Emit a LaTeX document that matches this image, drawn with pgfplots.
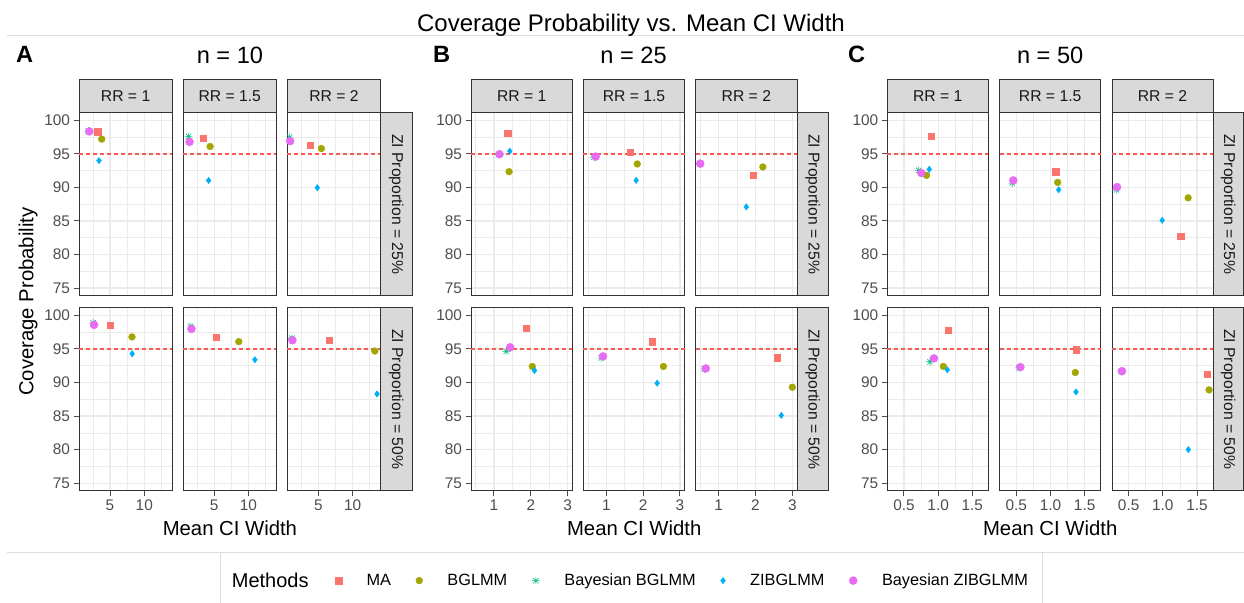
\documentclass[border=0pt]{standalone}
\usepackage{fontspec}
\setmainfont{Liberation Sans}
\usepackage{pgfplots}
\pgfplotsset{compat=1.18}
\usepackage{pgfplotstable}
\usetikzlibrary{calc}

\definecolor{cMA}{HTML}{F8766D}
\definecolor{cBG}{HTML}{A3A500}
\definecolor{cBBG}{HTML}{00BF7D}
\definecolor{cZI}{HTML}{00B0F6}
\definecolor{cBZI}{HTML}{E76BF3}
\definecolor{gridc}{HTML}{EBEBEB}
\definecolor{border}{HTML}{333333}
\definecolor{labc}{HTML}{4D4D4D}
\definecolor{stripc}{HTML}{D9D9D9}
\definecolor{framec}{HTML}{DDDDDD}

\newcommand\ticksize{\fontsize{15.4pt}{17pt}\selectfont}
\newcommand\stripsize{\fontsize{15.7pt}{18pt}\selectfont}
\newcommand\axsize{\fontsize{20.3pt}{23pt}\selectfont}
\newcommand\titsize{\fontsize{23.6pt}{27pt}\selectfont}
\newcommand\legsize{\fontsize{16.3pt}{19pt}\selectfont}
\newcommand\legtitsize{\fontsize{20pt}{23pt}\selectfont}

% ggplot shape 8: a plus and a cross
\pgfdeclareplotmark{ggstar}{%
  \pgfpathmoveto{\pgfqpoint{-\pgfplotmarksize}{0pt}}\pgfpathlineto{\pgfqpoint{\pgfplotmarksize}{0pt}}%
  \pgfpathmoveto{\pgfqpoint{0pt}{-\pgfplotmarksize}}\pgfpathlineto{\pgfqpoint{0pt}{\pgfplotmarksize}}%
  \pgfpathmoveto{\pgfqpoint{-.7071\pgfplotmarksize}{-.7071\pgfplotmarksize}}\pgfpathlineto{\pgfqpoint{.7071\pgfplotmarksize}{.7071\pgfplotmarksize}}%
  \pgfpathmoveto{\pgfqpoint{-.7071\pgfplotmarksize}{.7071\pgfplotmarksize}}\pgfpathlineto{\pgfqpoint{.7071\pgfplotmarksize}{-.7071\pgfplotmarksize}}%
  \pgfusepathqstroke}

% t = ZI 25%, b = ZI 50%; 1, 15, 2 = RR
\pgfplotstableread{
method xt1 yt1 xt15 yt15 xt2 yt2 xb1 yb1 xb15 yb15 xb2 yb2
MA  3.90 98.30 4.00 97.30 4.21 96.30 5.00 98.50 5.17 96.70 6.19 96.30
BG  4.23 97.20 4.61 96.10 5.32 95.80 7.80 96.80 8.23 96.10 15.7 94.70
BBG 3.22 98.40 2.98 97.60 2.80 97.50 3.55 98.90 3.12 98.40 2.93 96.60
ZI  4.00 94.00 4.47 91.05 4.90 89.95 7.83 94.30 11.4 93.40 16.4 88.30
BZI 3.29 98.35 3.04 96.80 2.83 96.90 3.62 98.60 3.16 98.00 2.96 96.30
}\nten
\pgfplotstableread{
method xt1 yt1 xt15 yt15 xt2 yt2 xb1 yb1 xb15 yb15 xb2 yb2
MA  1.37 98.10 1.645 95.20 1.93 91.85 1.88 98.10 2.24 96.10 2.585 93.70
BG  1.41 92.35 1.84 93.50 2.20 93.05 2.04 92.40 2.55 92.40 3.00 89.30
BBG 1.12 94.90 0.66 94.50 0.48 93.55 1.33 94.65 0.86 93.65 0.61 92.00
ZI  1.43 95.40 1.81 91.05 1.75 87.10 2.10 91.80 2.38 89.90 2.70 85.10
BZI 1.15 94.95 0.71 94.60 0.50 93.55 1.44 95.25 0.91 93.90 0.65 92.10
}\ntwentyfive
\pgfplotstableread{
method xt1 yt1 xt15 yt15 xt2 yt2 xb1 yb1 xb15 yb15 xb2 yb2
MA  0.900 97.60 1.076 92.35 1.26 82.70 1.144 97.80 1.373 94.90 1.651 91.30
BG  0.830 91.80 1.105 90.75 1.37 88.45 1.076 92.40 1.363 91.50 1.676 88.90
BBG 0.715 92.55 0.440 90.65 0.32 89.65 0.880 93.10 0.540 92.20 0.390 91.60
ZI  0.870 92.70 1.120 89.65 0.99 85.10 1.134 91.90 1.373 88.60 1.373 80.00
BZI 0.754 92.15 0.456 91.05 0.33 90.05 0.939 93.60 0.559 92.30 0.402 91.70
}\nfifty

\pgfplotsset{
  facet/.style={
    scale only axis, anchor=north west, height=183.5pt,
    ymin=73.85, ymax=101.2,
    ytick={75,80,85,90,95,100}, yticklabels={75,80,85,90,95,100},
    minor ytick={77.5,82.5,87.5,92.5,97.5},
    grid=both,
    major grid style={line width=1.2pt, draw=gridc},
    minor grid style={line width=0.6pt, draw=gridc},
    axis line style={draw=border, line width=1pt},
    tick align=outside, tick pos=left,
    major tick length=5.5pt, minor tick length=0pt,
    tick style={line width=1pt, draw=labc},
    tick label style={font=\ticksize, text=labc},
    clip=false,
  },
  % log scale for n = 10, done with a coordinate transform
  gA/.style={x coord trafo/.code={\pgfmathparse{ln(##1)}},
    x coord inv trafo/.code={\pgfmathparse{exp(##1)}},
    xmin=2.67, xmax=17.6, xtick={5,10}, xticklabels={5,10},
    minor xtick={3.536,7.071,14.142}, width=93.2pt},
  gB/.style={xmin=0.376, xmax=3.127, xtick={1,2,3}, xticklabels={1,2,3},
    minor xtick={0.5,1.5,2.5}, width=101.3pt},
  gC/.style={xmin=0.256, xmax=1.734, xtick={0.5,1,1.5}, xticklabels={0.5,1.0,1.5},
    minor xtick={0.75,1.25}, width=101pt},
  noX/.style={xticklabels={}, xmajorticks=false},
  noY/.style={yticklabels={}, ymajorticks=false},
  refline/.style={no marks, draw=cMA!75!red, line width=1.5pt, dash pattern=on 4pt off 3pt},
  pts/.style={only marks, scatter, scatter src=explicit symbolic,
    scatter/classes={
      MA={mark=square*, mark size=3.1pt, draw=cMA, fill=cMA},
      BG={mark=*, mark size=3.4pt, draw=cBG, fill=cBG},
      BBG={mark=ggstar, mark size=3.8pt, draw=cBBG, line width=0.6pt},
      ZI={mark=diamond*, mark size=3.2pt, draw=cZI, fill=cZI},
      BZI={mark=*, mark size=4pt, draw=cBZI, fill=cBZI}}},
}
\tikzset{
  strip/.style={fill=stripc, draw=border, line width=1pt},
  striptext/.style={font=\stripsize, text=black!90, inner sep=0pt},
}

% #1 name, #2 left (px), #3 top (px), #4 styles, #5 table, #6 column suffix, #7 xmin, #8 xmax
\newcommand\facet[8]{%
  \begin{axis}[facet, #4, name=#1, at={(#2pt,602pt-#3pt)}]
    \addplot[refline] coordinates {(#7,95) (#8,95)};
    \addplot[pts] table[x=x#6, y=y#6, meta=method] {#5};
  \end{axis}}
\newcommand\topstrip[2]{%
  \draw[strip] (#1.north west) rectangle ([yshift=32.3pt]#1.north east);
  \node[striptext] at ($(#1.north west)!0.5!([yshift=32.3pt]#1.north east)$) {#2};}
\newcommand\rightstrip[3]{%
  \draw[strip] (#1.north east) rectangle ([xshift=#3]#1.south east);
  \node[striptext, rotate=-90] at ($(#1.north east)!0.5!([xshift=#3]#1.south east)$) {#2};}

\begin{document}
\begin{tikzpicture}
\useasboundingbox (0,0) rectangle (1244pt,602pt);

% frame lines
\draw[framec, line width=0.8pt] (7pt,602pt-35pt) -- (1244pt,602pt-35pt);
\draw[framec, line width=0.8pt] (7pt,602pt-552pt) -- (1244pt,602pt-552pt);
\node[font=\fontsize{24pt}{27pt}\selectfont, anchor=base, inner sep=0pt] at (631pt,602pt-31.7pt) {Coverage Probability vs. Mean CI Width};

% tags and sub-titles
\node[font=\titsize\bfseries, anchor=base west, inner sep=0pt] at (16pt,602pt-62.7pt) {A};
\node[font=\titsize\bfseries, anchor=base west, inner sep=0pt] at (433pt,602pt-62.7pt) {B};
\node[font=\titsize\bfseries, anchor=base west, inner sep=0pt] at (848pt,602pt-62.7pt) {C};
\node[font=\titsize, anchor=base] at (229.9pt,602pt-63.3pt) {n = 10};
\node[font=\titsize, anchor=base] at (633.6pt,602pt-63.3pt) {n = 25};
\node[font=\titsize, anchor=base] at (1050.2pt,602pt-63.3pt) {n = 50};

% n = 10
\facet{a11}{79}{112.3}{gA,noX}{\nten}{t1}{2.67}{17.6}
\facet{a12}{183.15}{112.3}{gA,noX,noY}{\nten}{t15}{2.67}{17.6}
\facet{a13}{287.3}{112.3}{gA,noX,noY}{\nten}{t2}{2.67}{17.6}
\facet{a21}{79}{307.4}{gA}{\nten}{b1}{2.67}{17.6}
\facet{a22}{183.15}{307.4}{gA,noY}{\nten}{b15}{2.67}{17.6}
\facet{a23}{287.3}{307.4}{gA,noY}{\nten}{b2}{2.67}{17.6}
% n = 25
\facet{b11}{471}{112.3}{gB,noX}{\ntwentyfive}{t1}{0.376}{3.127}
\facet{b12}{583.35}{112.3}{gB,noX,noY}{\ntwentyfive}{t15}{0.376}{3.127}
\facet{b13}{695.7}{112.3}{gB,noX,noY}{\ntwentyfive}{t2}{0.376}{3.127}
\facet{b21}{471}{307.4}{gB}{\ntwentyfive}{b1}{0.376}{3.127}
\facet{b22}{583.35}{307.4}{gB,noY}{\ntwentyfive}{b15}{0.376}{3.127}
\facet{b23}{695.7}{307.4}{gB,noY}{\ntwentyfive}{b2}{0.376}{3.127}
% n = 50
\facet{c11}{887.3}{112.3}{gC,noX}{\nfifty}{t1}{0.256}{1.734}
\facet{c12}{999.65}{112.3}{gC,noX,noY}{\nfifty}{t15}{0.256}{1.734}
\facet{c13}{1112}{112.3}{gC,noX,noY}{\nfifty}{t2}{0.256}{1.734}
\facet{c21}{887.3}{307.4}{gC}{\nfifty}{b1}{0.256}{1.734}
\facet{c22}{999.65}{307.4}{gC,noY}{\nfifty}{b15}{0.256}{1.734}
\facet{c23}{1112}{307.4}{gC,noY}{\nfifty}{b2}{0.256}{1.734}

% strips
\foreach \g in {a,b,c}{
  \topstrip{\g11}{RR = 1}
  \topstrip{\g12}{RR = 1.5}
  \topstrip{\g13}{RR = 2}
}
\rightstrip{a13}{ZI Proportion = 25\%}{31.5pt}
\rightstrip{a23}{ZI Proportion = 50\%}{31.5pt}
\rightstrip{b13}{ZI Proportion = 25\%}{31.5pt}
\rightstrip{b23}{ZI Proportion = 50\%}{31.5pt}
\rightstrip{c13}{ZI Proportion = 25\%}{30.5pt}
\rightstrip{c23}{ZI Proportion = 50\%}{30.5pt}

% axis titles
\node[font=\axsize, anchor=base] at (229.9pt,602pt-536pt) {Mean CI Width};
\node[font=\axsize, anchor=base] at (634.2pt,602pt-536pt) {Mean CI Width};
\node[font=\axsize, anchor=base] at (1050.2pt,602pt-536pt) {Mean CI Width};
\node[font=\axsize, anchor=base, rotate=90] at (33.3pt,602pt-301.7pt) {Coverage Probability};

% legend
\draw[framec, line width=0.8pt, fill=white] (220pt,-10pt) rectangle (1042.7pt,602pt-552pt);
\node[font=\legtitsize, anchor=base west, inner sep=0pt] at (231.7pt,602pt-587.3pt) {Methods};
\begin{axis}[at={(0pt,0pt)}, anchor=south west, scale only axis, width=1244pt, height=602pt,
  hide axis, xmin=0, xmax=1, ymin=0, ymax=1,
  legend columns=5,
  legend image code/.code={\draw[#1] plot coordinates {(0pt,0pt)};},
  legend style={at={(0.2693,0.0355)}, anchor=west, draw=none, fill=none,
    inner sep=0pt, font=\legsize, nodes={inner sep=0pt, anchor=west},
    /tikz/every odd column/.append style={column sep=24.8pt},
    /tikz/every even column/.append style={column sep=24.8pt}}]
  \addlegendimage{only marks, mark=square*, mark size=3.3pt, draw=cMA, fill=cMA}
  \addlegendentry{MA}
  \addlegendimage{only marks, mark=*, mark size=3.4pt, draw=cBG, fill=cBG}
  \addlegendentry{BGLMM}
  \addlegendimage{only marks, mark=ggstar, mark size=3.8pt, draw=cBBG, line width=0.6pt}
  \addlegendentry{Bayesian BGLMM}
  \addlegendimage{only marks, mark=diamond*, mark size=3.2pt, draw=cZI, fill=cZI}
  \addlegendentry{ZIBGLMM}
  \addlegendimage{only marks, mark=*, mark size=4pt, draw=cBZI, fill=cBZI}
  \addlegendentry{Bayesian ZIBGLMM}
\end{axis}
\end{tikzpicture}
\end{document}
